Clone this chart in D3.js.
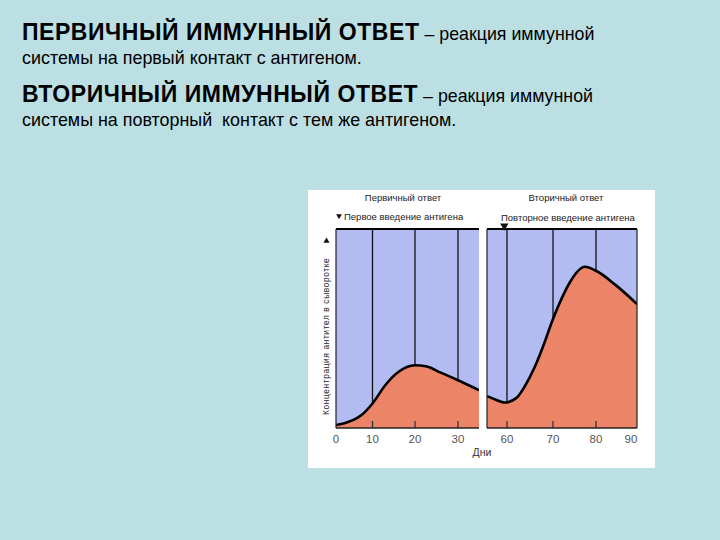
<!DOCTYPE html>
<html>
<head>
<meta charset="utf-8">
<script src="https://cdn.jsdelivr.net/npm/d3@7"></script>
<style>
  html, body { margin: 0; padding: 0; background: #bbdfe2; }
  svg { display: block; }
</style>
</head>
<body>
<svg id="chart" width="720" height="540"></svg>
<script>
// ---- Data ----
const headingBold = ["ПЕРВИЧНЫЙ ИММУННЫЙ ОТВЕТ", "ВТОРИЧНЫЙ ИММУННЫЙ ОТВЕТ"];
const headingRest = [" – реакция иммунной", " – реакция иммунной"];
const headingLine2 = ["системы на первый контакт с антигеном.", "системы на повторный  контакт с тем же антигеном."];

const panelTitles = ["Первичный ответ", "Вторичный ответ"];
const panelNotes = ["Первое введение антигена", "Повторное введение антигена"];
const yAxisLabel = "Концентрация антител в сыворотке";
const xAxisLabel = "Дни";

// Day axis (hand-drawn, slightly uneven spacing)
const primaryTicks = [0, 10, 20, 30];
const secondaryTicks = [60, 70, 80, 90];
const primaryGrid = [10, 20, 30];
const secondaryGrid = [60, 70, 80];
const secondInjectionDay = 59.4;

// Antibody concentration (relative units, 0–100 = panel height)
const primaryDays   = [0, 3, 7, 10, 13, 16, 20, 22.5, 26, 30, 35];
const primaryValues = [1.5, 2.8, 6.5, 12.3, 21.5, 28, 31.5, 31, 27.8, 24, 19];

const secondaryDays   = [55.5, 57.5, 59.5, 62, 64, 66, 68, 70, 72, 74, 77.4, 80, 85.3, 91.5];
const secondaryValues = [16, 14.2, 12.8, 15, 21.5, 30.5, 42, 54.8, 65, 73.5, 81, 79, 72.3, 62.3];

// ---- Drawing ----
const svg = d3.select("#chart");
const FONT = "'Liberation Sans', Arial, sans-serif";

// Heading text
const headY = [[39.5, 63.5], [101.5, 125.5]];
headingBold.forEach((b, i) => {
  const t = svg.append("text").attr("x", 22).attr("y", headY[i][0])
    .attr("font-family", FONT).attr("fill", "#000").attr("xml:space", "preserve");
  t.append("tspan").attr("font-weight", "bold").attr("font-size", 23)
    .attr("letter-spacing", 0.55).text(b);
  t.append("tspan").attr("font-size", 17.8).text(headingRest[i]);
  svg.append("text").attr("x", 22).attr("y", headY[i][1])
    .attr("font-family", FONT).attr("font-size", 17.9).attr("fill", "#000")
    .attr("xml:space", "preserve")
    .text(headingLine2[i]);
});

// White figure panel
svg.append("rect").attr("x", 308).attr("y", 190).attr("width", 347).attr("height", 278)
  .attr("fill", "#ffffff");

const plotTop = 229, plotBottom = 428;
const y = d3.scaleLinear().domain([0, 100]).range([plotBottom, plotTop]);

const xL = d3.scaleLinear().domain([0, 10, 20, 30, 35]).range([336, 372.5, 415, 458, 479]);
const xR = d3.scaleLinear().domain([55.5, 60, 70, 80, 90, 91.5]).range([487, 507, 553, 596, 631, 637]);

const blue = "#b3bbf3";
const salmon = "#ec8467";

function panel(x, days, values, grid, ticks, id, leftBorder, rightBorder) {
  const d0 = x.domain()[0], d1 = x.domain()[x.domain().length - 1];
  const x0 = x(d0), x1 = x(d1);
  const g = svg.append("g");
  g.append("clipPath").attr("id", id).append("rect")
    .attr("x", x0).attr("y", plotTop).attr("width", x1 - x0).attr("height", plotBottom - plotTop);

  g.append("rect").attr("x", x0).attr("y", plotTop).attr("width", x1 - x0)
    .attr("height", plotBottom - plotTop).attr("fill", blue);

  // vertical grid lines
  g.selectAll("line.grid").data(grid).join("line")
    .attr("x1", d => x(d)).attr("x2", d => x(d))
    .attr("y1", plotTop).attr("y2", plotBottom)
    .attr("stroke", "#111").attr("stroke-width", 1.3);

  const pts = days.map((d, i) => [d, values[i]]);
  const area = d3.area().x(d => x(d[0])).y0(plotBottom).y1(d => y(d[1])).curve(d3.curveMonotoneX);
  const line = d3.line().x(d => x(d[0])).y(d => y(d[1])).curve(d3.curveMonotoneX);

  g.append("path").datum(pts).attr("d", area).attr("fill", salmon).attr("clip-path", `url(#${id})`);
  g.append("path").datum(pts).attr("d", line).attr("fill", "none")
    .attr("stroke", "#000").attr("stroke-width", 2.6).attr("stroke-linejoin", "round")
    .attr("clip-path", `url(#${id})`);

  // bottom tick marks
  g.selectAll("line.tick").data(grid).join("line")
    .attr("x1", d => x(d)).attr("x2", d => x(d))
    .attr("y1", plotBottom - 7).attr("y2", plotBottom)
    .attr("stroke", "#333").attr("stroke-width", 1.3);

  // borders
  g.append("line").attr("x1", x0).attr("x2", x1).attr("y1", plotTop).attr("y2", plotTop)
    .attr("stroke", "#000").attr("stroke-width", 2);
  g.append("line").attr("x1", x0).attr("x2", x1).attr("y1", plotBottom).attr("y2", plotBottom)
    .attr("stroke", "#222").attr("stroke-width", 1.5);
  if (leftBorder) g.append("line").attr("x1", x0).attr("x2", x0).attr("y1", plotTop).attr("y2", plotBottom)
    .attr("stroke", "#222").attr("stroke-width", 1.2);
  if (rightBorder) g.append("line").attr("x1", x1).attr("x2", x1).attr("y1", plotTop).attr("y2", plotBottom)
    .attr("stroke", "#222").attr("stroke-width", 1.2);

  // tick labels
  g.selectAll("text.tl").data(ticks).join("text")
    .attr("x", d => x(d)).attr("y", 443)
    .attr("text-anchor", "middle").attr("font-family", FONT).attr("font-size", 11.5)
    .attr("fill", "#555").text(d => d);
}

panel(xL, primaryDays, primaryValues, primaryGrid, primaryTicks, "clipL", true, false);
panel(xR, secondaryDays, secondaryValues, secondaryGrid, secondaryTicks, "clipR", true, true);

// Panel titles
svg.append("text").attr("x", 403).attr("y", 201).attr("text-anchor", "middle")
  .attr("font-family", FONT).attr("font-size", 9.5).attr("fill", "#222").text(panelTitles[0]);
svg.append("text").attr("x", 566).attr("y", 201).attr("text-anchor", "middle")
  .attr("font-family", FONT).attr("font-size", 9.5).attr("fill", "#222").text(panelTitles[1]);

// Injection notes
svg.append("path")
  .attr("d", d3.symbol().type(d3.symbolTriangle).size(14)())
  .attr("transform", `translate(${xL(0) + 3},${216}) rotate(180)`).attr("fill", "#111");
svg.append("text").attr("x", 344).attr("y", 220)
  .attr("font-family", FONT).attr("font-size", 9.5).attr("fill", "#222").text(panelNotes[0]);
svg.append("text").attr("x", 501).attr("y", 221)
  .attr("font-family", FONT).attr("font-size", 9.5).attr("fill", "#222").text(panelNotes[1]);
svg.append("path")
  .attr("d", d3.symbol().type(d3.symbolTriangle).size(30)())
  .attr("transform", `translate(${xR(secondInjectionDay)},${226}) rotate(180)`).attr("fill", "#111");

// Y axis label (rotated) with arrow
svg.append("text")
  .attr("transform", `translate(329,415) rotate(-90)`)
  .attr("font-family", FONT).attr("font-size", 8.4).attr("letter-spacing", 0.6)
  .attr("fill", "#222").text(yAxisLabel);
svg.append("path")
  .attr("d", d3.symbol().type(d3.symbolTriangle).size(16)())
  .attr("transform", `translate(326.5,241)`).attr("fill", "#111");

// X axis label
svg.append("text").attr("x", 482).attr("y", 456).attr("text-anchor", "middle")
  .attr("font-family", FONT).attr("font-size", 10.5).attr("fill", "#333").text(xAxisLabel);
</script>
</body>
</html>
